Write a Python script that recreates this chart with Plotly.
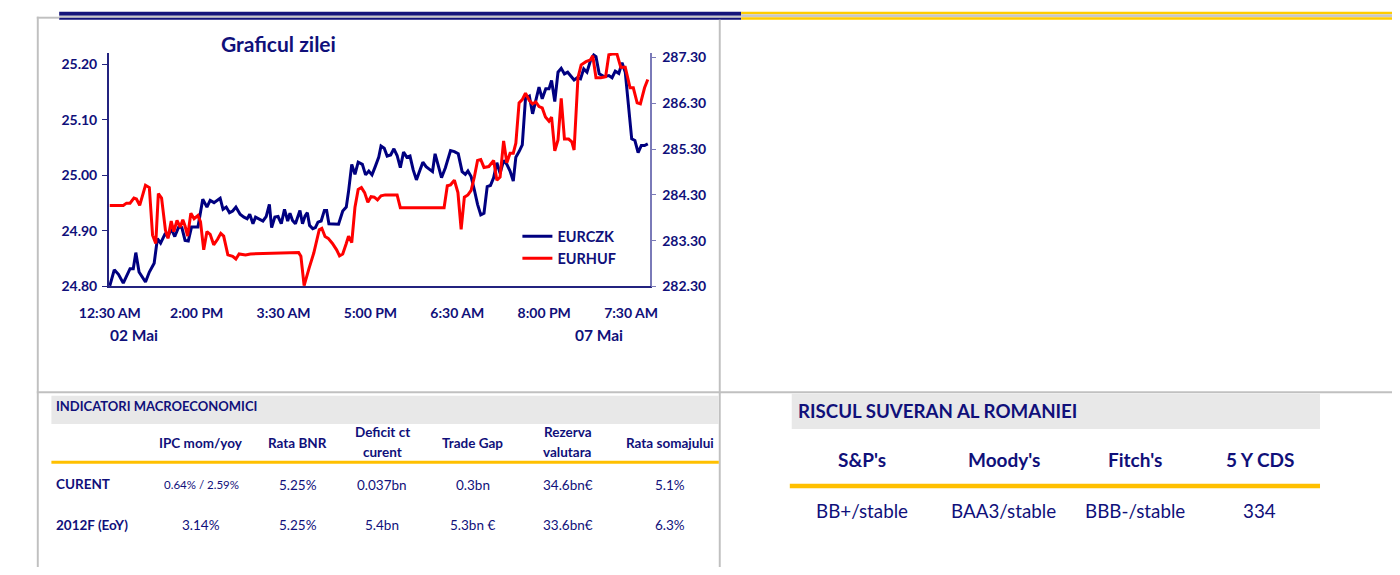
import plotly.graph_objects as go

W, H = 1400, 575
NAVY = "#10107A"
FONT = "Lato"

# ---------------- data ----------------
x_tick_pos = [0, 27, 54, 81, 108, 135, 162]
x_tick_labels = ["12:30 AM", "2:00 PM", "3:30 AM", "5:00 PM", "6:30 AM", "8:00 PM", "7:30 AM"]
date_labels = ["02 Mai", "07 Mai"]
date_label_pos = [7.6, 152.0]

czk_t = [0, 1.4, 2.7, 4.2, 6.3, 7.3, 8.1, 9.1, 11.1, 12.3,
         13.8, 14.8, 15.8, 17.3, 18.1, 19.1, 20.2, 21.4, 22.4, 23.4,
         24.4, 25.4, 27.4, 28.9, 30.2, 31.2, 32.4, 34.3, 35.2, 36.2,
         37.2, 38.2, 39.2, 40.5, 41.7, 42.7, 43.5, 44.5, 45.3, 46.3,
         47.6, 48.6, 49.6, 50.3, 51.3, 52.3, 53.3, 54.3, 55.3, 56.0,
         56.8, 57.7, 58.4, 59.1, 59.9, 60.7, 61.4, 62.1, 63.1, 63.9,
         64.7, 65.7,
         66.7, 67.4, 68.1, 69.4, 71.1, 72.4, 73.5, 74.2,
         75.2, 76.2, 77.2, 78.5, 79.5, 80.5, 81.5, 82.5, 83.6, 84.3,
         85.3, 86.2, 87.3, 88.3, 89.3, 90.3, 91.3, 92.3, 93.3, 94.3,
         95.3, 96.3, 97.3, 98.3, 99.6, 100.3, 101.1, 102.1, 103.1, 104.3,
         105.9, 107.1, 108.3, 109.5, 110.5, 111.3, 112.3, 113.3, 114.3, 115.3,
         116.3, 117.3, 118.3, 119.3, 120.3, 121.3, 122.4, 123.4, 124.4, 125.4,
         126.2, 127.2, 128.2, 129.2, 130.4, 131.4, 132.4, 133.4, 134.4, 135.5,
         136.5, 137.3, 138.3, 139.3, 140.3, 141.3, 142.3, 143.3, 144.3, 145.3,
         146.3, 147.3, 148.3, 149.4, 150.4, 151.1, 152.1, 153.6, 155.1, 156.1,
         157.1, 158.2, 159.2, 160.2, 161.2, 162.2, 163.2, 164.2, 165.2, 166.2, 167.2]
czk_v = [24.801, 24.830, 24.822, 24.806, 24.832, 24.832, 24.861, 24.826, 24.808, 24.826,
         24.842, 24.886, 24.878, 24.896, 24.889, 24.904, 24.890, 24.907, 24.906, 24.883,
         24.882, 24.907, 24.907, 24.957, 24.943, 24.955, 24.951, 24.959, 24.939, 24.943,
         24.933, 24.936, 24.943, 24.930, 24.925, 24.922, 24.930, 24.913, 24.925, 24.922,
         24.918, 24.926, 24.948, 24.906, 24.925, 24.926, 24.913, 24.939, 24.918, 24.932,
         24.919, 24.913, 24.926, 24.937, 24.913, 24.927, 24.933, 24.910, 24.904, 24.906,
         24.916, 24.918,
         24.937, 24.937, 24.913, 24.913, 24.912, 24.936, 24.943, 24.971,
         25.020, 25.002, 25.024, 25.020, 25.001, 25.008, 25.001, 25.016, 25.033, 25.053,
         25.049, 25.035, 25.037, 25.048, 25.036, 25.014, 25.042, 25.033, 25.035, 25.010,
         24.992, 25.008, 25.024, 25.016, 25.011, 25.007, 25.039, 25.016, 24.996, 25.014,
         25.045, 25.043, 25.039, 25.007, 25.002, 25.008, 24.998, 24.974, 24.948, 24.929,
         24.932, 24.980, 24.982, 24.996, 25.023, 25.004, 25.027, 25.020, 25.008, 24.990,
         25.033, 25.043, 25.055, 25.139, 25.143, 25.111, 25.135, 25.159, 25.138, 25.156,
         25.156, 25.171, 25.133, 25.186, 25.193, 25.183, 25.186, 25.178, 25.172, 25.176,
         25.174, 25.192, 25.186, 25.207, 25.217, 25.214, 25.183, 25.178, 25.180, 25.176,
         25.188, 25.184, 25.203, 25.186, 25.130, 25.066, 25.063, 25.041, 25.054, 25.054, 25.057]

huf_t = [0, 4.2, 5.2, 6.3, 7.5, 8.3, 9.3, 11.1, 12.3, 13.3,
         14.3, 15.1, 16.1, 17.3, 18.1, 19.1, 19.9, 20.9, 21.9, 22.7,
         23.4, 24.2, 25.2, 26.2, 27.4, 28.2, 29.2, 30.2, 31.2, 32.3,
         33.5, 34.5, 35.4, 36.7, 38.2, 39.2, 40.2, 42.2, 43.7, 58.7,
         59.4, 60.4, 61.9, 63.4, 65.1, 65.9, 66.9, 67.9, 69.2, 70.5,
         71.4, 72.4, 73.5, 74.2, 75.2, 76.2, 77.2, 78.2, 79.2, 80.2,
         81.2, 82.2, 83.2, 84.3, 85.6, 89.3, 90.3, 103.9, 104.9, 105.9,
         107.1, 108.2, 109.2, 110.2, 111.3, 112.3, 113.3, 114.3, 115.3, 116.3,
         117.8, 119.3, 120.3, 121.3, 122.4, 123.4, 124.4, 125.4, 126.2, 127.2,
         128.2, 129.2, 130.4, 131.4, 132.4, 133.4, 134.4, 135.4, 136.5, 137.3,
         138.3, 139.3, 140.3, 141.3, 142.6, 143.6, 144.3, 145.5, 146.5, 148.0,
         149.4, 150.1, 151.1, 152.6, 154.1, 155.1, 156.6, 157.6, 158.8, 160.2,
         161.7, 162.7, 163.9, 164.9, 166.2, 167.2]
huf_v = [284.07, 284.07, 284.12, 284.12, 284.23, 284.21, 284.07, 284.51, 284.46, 283.42,
         283.24, 284.33, 284.23, 283.53, 283.35, 283.73, 283.50, 283.74, 283.60, 283.76,
         283.62, 283.40, 283.90, 283.78, 283.85, 283.71, 283.10, 283.50, 283.44, 283.21,
         283.33, 283.46, 283.40, 282.99, 282.96, 282.90, 283.01, 282.99, 283.01, 283.04,
         282.96, 282.32, 282.69, 283.03, 283.54, 283.57, 283.39, 283.35, 283.24, 283.10,
         282.97, 283.01, 283.24, 283.40, 283.26, 284.03, 284.42, 284.46, 284.35, 284.14,
         284.26, 284.25, 284.19, 284.28, 284.30, 284.30, 284.02, 284.02, 284.50, 284.52,
         284.62, 284.35, 283.55, 284.25, 284.30, 284.40, 284.69, 285.05, 285.07, 284.90,
         284.92, 285.05, 284.62, 284.69, 285.48, 285.00, 285.21, 285.21, 285.43, 286.31,
         286.38, 286.52, 286.36, 286.29, 286.33, 286.23, 286.20, 286.00, 285.91, 286.00,
         285.26, 285.50, 286.41, 285.52, 285.52, 285.46, 285.28, 286.86, 287.14, 287.21,
         287.25, 287.34, 286.86, 286.86, 286.88, 287.36, 287.38, 287.38, 287.09, 287.09,
         286.64, 286.64, 286.31, 286.29, 286.64, 286.82]

macro_title = "INDICATORI MACROECONOMICI"
macro_headers = ["IPC mom/yoy", "Rata BNR", "Deficit ct<br>curent", "Trade Gap", "Rezerva<br>valutara", "Rata somajului"]
macro_rows = ["CURENT", "2012F (EoY)"]
macro_curent = ["0.64% / 2.59%", "5.25%", "0.037bn", "0.3bn", "34.6bn€", "5.1%"]
macro_2012 = ["3.14%", "5.25%", "5.4bn", "5.3bn €", "33.6bn€", "6.3%"]

risk_title = "RISCUL SUVERAN AL ROMANIEI"
risk_headers = ["S&P's", "Moody's", "Fitch's", "5 Y CDS"]
risk_values = ["BB+/stable", "BAA3/stable", "BBB-/stable", "334"]


# ---------------- helpers ----------------
def px(x):
    return x / W


def py(y):
    return 1 - y / H


shapes = []
annotations = []


def rect(x0, y0, x1, y1, color):
    shapes.append(dict(type="rect", xref="paper", yref="paper",
                       x0=px(x0), x1=px(x1), y0=py(y1), y1=py(y0),
                       fillcolor=color, line=dict(width=0), layer="below"))


def text(x, y, s, size=13, bold=False, anchor="center", color=NAVY):
    annotations.append(dict(xref="paper", yref="paper", x=px(x), y=py(y), text=s,
                            showarrow=False, xanchor=anchor, yanchor="middle",
                            font=dict(family=FONT, size=size, color=color,
                                      weight="bold" if bold else "normal")))


# ---------------- figure ----------------
fig = go.Figure()
fig.add_trace(go.Scatter(x=czk_t, y=czk_v, name="EURCZK", mode="lines",
                         line=dict(color="#000080", width=3), yaxis="y"))
fig.add_trace(go.Scatter(x=huf_t, y=huf_v, name="EURHUF", mode="lines",
                         line=dict(color="#FF0000", width=3), yaxis="y2"))

# page decorations: top rules
rect(30, 8, 731, 12, "#14147A")
rect(30, 12, 731, 14, "#C8C8C8")
rect(30, 14, 731, 16, "#14147A")
rect(731, 8, 1400, 10.5, "#FFCC00")
rect(731, 10.5, 1400, 13.5, "#C8C8C8")
rect(731, 13.5, 1400, 16, "#FFCC00")
# frame lines
GR = "#C0C0C0"
rect(7, 13, 30, 15, GR)
rect(7, 13, 9, 575, GR)
rect(708, 16, 710, 575, GR)
rect(7, 395.5, 1400, 397.5, GR)

# table 1
rect(22, 400, 708, 429, "#E8E8E8")
rect(22, 466.5, 708, 469.5, "#FFC000")
text(25, 411, macro_title, size=13, bold=True, anchor="left")
col1 = [176, 275, 362, 455, 553, 658]
HS = 13.5
for cx, h in zip(col1, macro_headers):
    parts = h.split("<br>")
    if len(parts) == 1:
        text(cx, 448, parts[0], size=HS, bold=True)
    else:
        text(cx, 437, parts[0], size=HS, bold=True)
        text(cx, 458, parts[1], size=HS, bold=True)
text(25, 490, macro_rows[0], size=HS, bold=True, anchor="left")
text(25, 532, macro_rows[1], size=HS, bold=True, anchor="left")
for i, (cx, v) in enumerate(zip(col1, macro_curent)):
    text(cx, 491, v, size=11.5 if i == 0 else 13.5)
for cx, v in zip(col1, macro_2012):
    text(cx, 532, v, size=13.5)

# table 2
rect(783, 398, 1326, 434, "#E8E8E8")
rect(781, 490, 1326, 494.5, "#FFC000")
text(787, 416, risk_title, size=18.7, bold=True, anchor="left")
col2 = [855, 1001, 1136, 1264]
for cx, h in zip(col2, risk_headers):
    text(cx, 465, h, size=19, bold=True)
for cx, v in zip(col2, risk_values):
    text(cx, 517, v, size=18.8)

# chart title and date labels
text(255, 40, "Graficul zilei", size=21, bold=True)
for pos, lab in zip(date_label_pos, date_labels):
    annotations.append(dict(xref="x", yref="paper", x=pos, y=py(338), text=lab,
                            showarrow=False, xanchor="center", yanchor="middle",
                            font=dict(family=FONT, size=15.5, color=NAVY, weight="bold")))

tickfont = dict(family=FONT, size=14, color=NAVY, weight="bold")

fig.update_layout(
    width=W, height=H, autosize=False,
    margin=dict(l=0, r=0, t=0, b=0),
    paper_bgcolor="white", plot_bgcolor="white",
    shapes=shapes, annotations=annotations,
    showlegend=True,
    legend=dict(x=px(501), y=py(221), xanchor="left", yanchor="top",
                bgcolor="rgba(0,0,0,0)", font=dict(family=FONT, size=14.5, color=NAVY, weight="bold"),
                itemwidth=30, tracegroupgap=0),
    xaxis=dict(domain=[px(81), px(637)], range=[-0.3, 167.8],
               tickmode="array", tickvals=x_tick_pos, ticktext=x_tick_labels,
               showline=True, linecolor="#23237F", linewidth=1.5,
               showgrid=False, zeroline=False, ticks="",
               tickfont=tickfont, ticklabelstandoff=13, fixedrange=True),
    yaxis=dict(domain=[py(288.5), py(50)], range=[24.80, 25.2207],
               tickmode="array", tickvals=[24.8, 24.9, 25.0, 25.1, 25.2],
               tickformat=".2f", showline=True, linecolor="#23237F", linewidth=1.5,
               showgrid=False, zeroline=False, ticks="outside", ticklen=5,
               tickcolor="#23237F", tickfont=tickfont, ticklabelstandoff=2),
    yaxis2=dict(domain=[py(288.5), py(50)], range=[282.30, 287.40], overlaying="y", side="right",
                anchor="x",
                tickmode="array", tickvals=[282.3, 283.3, 284.3, 285.3, 286.3, 287.3],
                tickformat=".2f", showline=True, linecolor="#7A7AB8", linewidth=1.5,
                showgrid=False, zeroline=False, ticks="outside", ticklen=5,
                tickcolor="#7A7AB8", tickfont=tickfont, ticklabelstandoff=3),
)

fig.write_html("out.html", config={"displayModeBar": False},
               post_script="document.body.style.margin='0';document.body.style.overflow='hidden';")
